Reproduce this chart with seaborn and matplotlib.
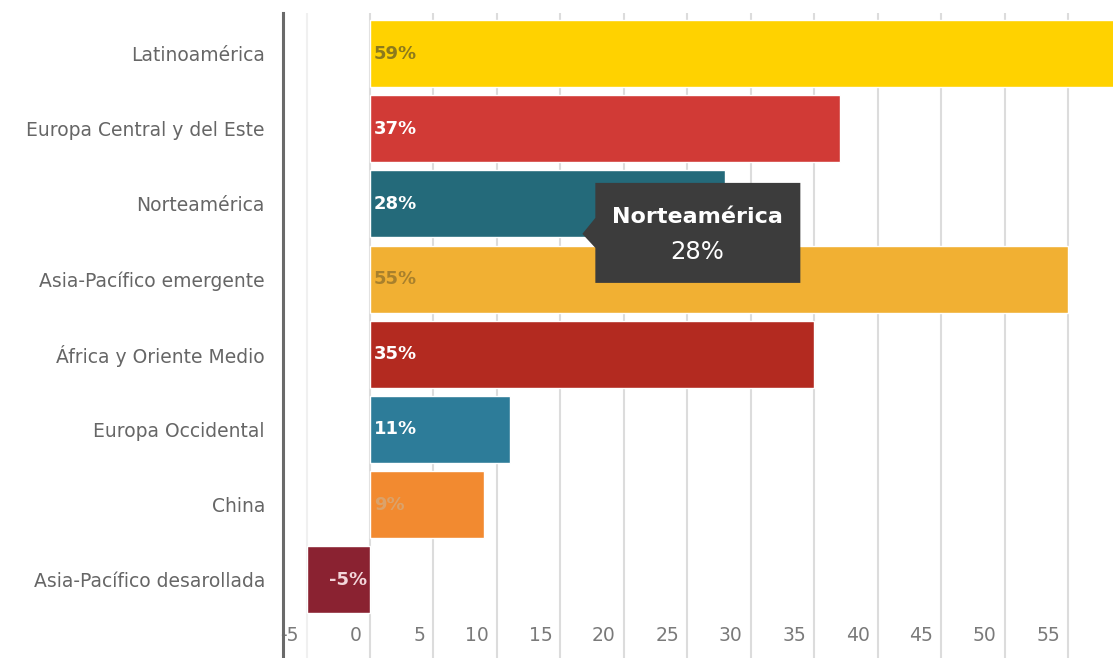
import matplotlib
matplotlib.use("Agg")
import matplotlib.pyplot as plt
import matplotlib.transforms as mtransforms
from matplotlib.patches import Polygon
import seaborn as sns
import pandas as pd

# Growth by region (%)
regions = [
    "Latinoamérica",
    "Europa Central y del Este",
    "Norteamérica",
    "Asia-Pacífico emergente",
    "África y Oriente Medio",
    "Europa Occidental",
    "China",
    "Asia-Pacífico desarollada",
]
growth = [59, 37, 28, 55, 35, 11, 9, -5]
bar_colors = ["#FFD200", "#D13A36", "#246A7A", "#F1B033",
              "#B32A20", "#2D7C99", "#F28A30", "#8A2231"]
label_colors = ["#8c7a1c", "#ffffff", "#ffffff", "#a8802c",
                "#ffffff", "#ffffff", "#dba26a", "#f3d6da"]
x_ticks = [-5, 0, 5, 10, 15, 20, 25, 30, 35, 40, 45, 50, 55]

tooltip_region = "Norteamérica"

df = pd.DataFrame({"region": regions, "growth": growth})

sns.set_theme(style="white")
plt.rcParams["font.family"] = ["DejaVu Sans"]

W, H = 1113, 658
fig = plt.figure(figsize=(W / 100, H / 100), dpi=100)
ax = fig.add_axes([283 / W, 0, (W - 283) / W, (H - 13) / H])

sns.barplot(data=df, x="growth", y="region", hue="region", palette=bar_colors,
            orient="h", width=0.89, saturation=1, legend=False, ax=ax,
            zorder=2)

ax.set_xlim(-6.86, 58.55)
ax.set_ylim(8.04, -0.539)
ax.set_xlabel("")
ax.set_ylabel("")

# vertical grid
ax.set_xticks(x_ticks)
ax.set_xticklabels([str(t) for t in x_ticks])
ax.xaxis.grid(True, color="#dcdcdc", linewidth=1.5, zorder=0)
ax.set_axisbelow(True)
ax.yaxis.grid(False)
# the line left of zero is barely visible
ax.xaxis.get_major_ticks()[0].gridline.set_color("#f0f0f0")

for side in ["top", "right", "bottom"]:
    ax.spines[side].set_visible(False)
ax.spines["left"].set_color("#6a6a6a")
ax.spines["left"].set_linewidth(2.2)
ax.spines["left"].set_zorder(5)

ax.tick_params(axis="y", length=0, pad=13, labelsize=13.5, labelcolor="#666666")
ax.tick_params(axis="x", length=0, pad=-16.5, labelsize=13.5, labelcolor="#7a7a7a")

shift = mtransforms.ScaledTranslation(-8 / 100, 0, fig.dpi_scale_trans)
for lbl in ax.get_xticklabels():
    lbl.set_horizontalalignment("right")
    lbl.set_verticalalignment("center")
    lbl.set_transform(lbl.get_transform() + shift)

# value labels inside bars
for i, (v, c) in enumerate(zip(growth, label_colors)):
    if v >= 0:
        ax.annotate(f"{v}%", xy=(0, i), xytext=(4, 0), textcoords="offset pixels",
                    ha="left", va="center", fontsize=13, fontweight="bold",
                    color=c, zorder=4)
    else:
        ax.annotate(f"{v}%", xy=(0, i), xytext=(-3, 0), textcoords="offset pixels",
                    ha="right", va="center", fontsize=13, fontweight="bold",
                    color=c, zorder=4)

# hover tooltip on the Norteamérica bar
ti = regions.index(tooltip_region)
tv = growth[ti]
anchor = mtransforms.ScaledTranslation(tv, ti, ax.transData)
tip_trans = mtransforms.Affine2D() + anchor
tip = Polygon([(-130, 21), (75, 21), (75, -79), (-130, -79),
               (-130, -44), (-143, -30), (-130, -14)],
              closed=True, facecolor="#3c3c3c", edgecolor="none",
              transform=tip_trans, zorder=6, clip_on=False)
ax.add_patch(tip)
ax.annotate(tooltip_region, xy=(tv, ti), xytext=(-28, -13), textcoords="offset pixels",
            ha="center", va="center", fontsize=16, fontweight="bold",
            color="white", zorder=7)
ax.annotate(f"{tv}%", xy=(tv, ti), xytext=(-28, -48), textcoords="offset pixels",
            ha="center", va="center", fontsize=17.5, color="white", zorder=7)

fig.savefig("out.png", dpi=100)
